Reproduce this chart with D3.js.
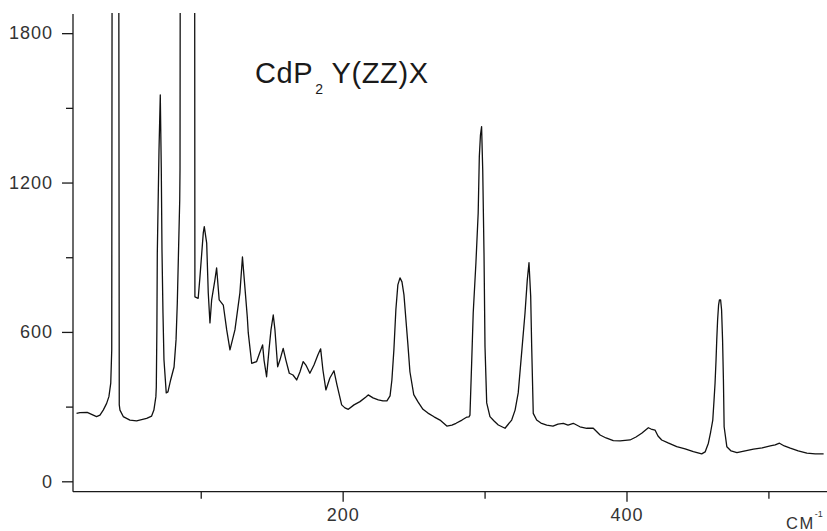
<!DOCTYPE html>
<html>
<head>
<meta charset="utf-8">
<script src="https://cdnjs.cloudflare.com/ajax/libs/d3/7.8.5/d3.min.js"></script>
<style>
  body { margin: 0; background: #fff; }
  svg { display: block; }
  .axis path, .axis line { stroke: #1a1a1a; stroke-width: 1.3; }
  .axis text { font-family: "Liberation Sans", Arial, sans-serif; font-size: 18px; fill: #333; letter-spacing: 1px; }
</style>
</head>
<body>
<svg id="chart" width="827" height="531"></svg>
<script>
// raman spectrum (cm-1 vs counts)
var waveNumbers = [12.5,14.9,20.0,23.1,26.6,29.0,31.3,33.7,35.3,36.6,37.3,37.6,39.9,42.2,42.6,43.1,45.4,50.1,54.8,61.9,
  65.4,67.0,68.4,68.7,69.1,69.4,70.6,71.5,72.2,72.7,73.4,74.1,75.7,76.9,78.8,81.2,82.6,83.5,85.2,85.4,
  85.6,90.6,95.7,95.9,98.2,99.4,101.8,102.5,104.2,105.3,106.5,107.7,110.0,111.2,113.0,115.9,118.3,120.6,124.1,127.6,
  129.4,131.1,132.8,133.5,135.9,139.4,141.0,143.6,144.6,146.4,148.1,149.5,151.1,152.3,154.2,155.8,158.1,160.0,162.4,165.0,
  167.6,169.9,172.2,174.1,176.9,179.8,182.6,184.5,186.1,188.2,191.0,193.9,196.0,199.3,201.6,204.0,208.0,212.2,216.4,218.0,
  221.4,225.1,228.4,231.2,233.4,234.7,236.1,237.5,238.9,240.4,241.8,243.2,244.6,246.0,247.4,250.1,253.1,256.6,260.1,264.4,
  268.6,273.4,277.0,279.9,284.1,287.6,289.0,289.7,290.9,292.0,293.9,295.5,296.3,297.1,297.9,298.7,299.6,300.3,301.5,303.8,
  306.7,309.7,314.4,319.1,321.5,323.7,326.1,328.5,330.1,331.3,332.5,333.2,334.3,336.7,339.7,343.8,348.2,351.7,355.5,358.8,
  362.5,367.2,372.0,376.6,381.4,385.6,390.7,395.5,402.5,406.7,410.7,415.4,417.3,420.1,422.2,424.8,429.3,435.4,441.3,447.1,
  453.0,455.4,457.7,459.3,460.8,461.7,462.4,463.1,463.6,464.2,464.9,465.5,466.3,467.0,467.7,468.3,468.8,470.7,473.7,477.8,
  483.6,489.5,495.6,501.3,504.8,507.8,511.2,515.4,521.0,527.1,533.0,538.9];
var intensities = [273,276,277,269,260,266,286,313,340,394,528,2400,3200,2400,307,286,260,246,243,253,
  262,286,340,379,608,917,1331,1552,1259,929,676,488,355,359,407,459,568,717,1130,1251,
  2300,3000,2300,741,735,817,998,1023,957,757,636,729,809,857,729,708,608,528,608,757,
  901,781,661,596,474,481,507,548,487,420,528,608,668,608,460,487,534,487,434,427,
  407,439,481,467,434,467,508,532,447,367,415,444,387,307,295,289,307,320,339,347,
  335,327,323,323,343,407,528,689,789,817,801,749,648,548,440,348,319,289,274,259,
  246,222,226,233,246,258,259,266,475,676,877,1078,1304,1391,1425,1251,917,541,315,260,
  242,226,213,246,286,355,515,676,809,878,742,541,273,246,234,226,222,230,233,226,
  233,219,213,213,186,174,163,162,166,178,193,215,210,206,182,166,154,139,130,119,
  110,118,153,198,246,327,394,487,568,648,709,729,729,689,568,407,219,139,122,115,
  122,129,134,142,146,153,142,133,122,113,110,110];

var yMajorTicks = [0, 600, 1200, 1800];
var yMinorTicks = [300, 900, 1500];
var xMajorTicks = [200, 400];
var xMinorTicks = [100, 300, 500];

(function () {
  var svg = d3.select("#chart");

  var plotLeft = 73, plotRight = 827, plotTop = 14, plotBottom = 491.7;

  var x = d3.scaleLinear().domain([10, 541]).range([plotLeft, 826.6]);
  var y = d3.scaleLinear().domain([0, 1877]).range([481.3, plotTop]);

  svg.append("defs").append("clipPath").attr("id", "plotClip")
    .append("rect").attr("x", plotLeft).attr("y", 13)
    .attr("width", plotRight - plotLeft).attr("height", plotBottom - 13);

  var pts = waveNumbers.map(function (w, i) { return [w, intensities[i]]; });
  var line = d3.line().x(function (d) { return x(d[0]); }).y(function (d) { return y(d[1]); });

  svg.append("path")
    .datum(pts)
    .attr("clip-path", "url(#plotClip)")
    .attr("d", line)
    .attr("fill", "none")
    .attr("stroke", "#111")
    .attr("stroke-width", 1.3)
    .attr("stroke-linejoin", "round");

  var plain = d3.format("d");

  // y axis
  var yAxisG = svg.append("g").attr("class", "axis").attr("transform", "translate(" + plotLeft + ",0)");
  yAxisG.call(d3.axisLeft(y).tickValues(yMajorTicks).tickFormat(plain).tickSize(11).tickSizeOuter(0).tickPadding(9));
  yAxisG.select(".domain").remove();
  svg.append("g").attr("class", "axis").attr("transform", "translate(" + plotLeft + ",0)")
    .call(d3.axisLeft(y).tickValues(yMinorTicks).tickSize(7).tickFormat(""))
    .select(".domain").remove();
  svg.append("line")
    .attr("x1", plotLeft).attr("x2", plotLeft).attr("y1", plotTop).attr("y2", plotBottom)
    .attr("stroke", "#1a1a1a").attr("stroke-width", 1.3);

  // x axis
  var xAxisG = svg.append("g").attr("class", "axis").attr("transform", "translate(0," + plotBottom + ")");
  xAxisG.call(d3.axisBottom(x).tickValues(xMajorTicks).tickFormat(plain).tickSize(10).tickSizeOuter(0).tickPadding(7));
  xAxisG.select(".domain").remove();
  svg.append("g").attr("class", "axis").attr("transform", "translate(0," + plotBottom + ")")
    .call(d3.axisBottom(x).tickValues(xMinorTicks).tickSize(7).tickFormat(""))
    .select(".domain").remove();
  svg.append("line")
    .attr("x1", plotLeft).attr("x2", plotRight).attr("y1", plotBottom).attr("y2", plotBottom)
    .attr("stroke", "#1a1a1a").attr("stroke-width", 1.3);

  // unit label
  var unit = svg.append("text")
    .attr("x", 786).attr("y", 529)
    .attr("font-family", "Liberation Sans, Arial, sans-serif")
    .attr("font-size", 16.5).attr("fill", "#333").attr("letter-spacing", 1.5);
  unit.append("tspan").text("CM");
  unit.append("tspan").attr("font-size", 9).attr("dy", -12).attr("letter-spacing", 0).text("-1");

  // title
  var title = svg.append("text")
    .attr("x", 255).attr("y", 83)
    .attr("font-family", "Liberation Sans, Arial, sans-serif")
    .attr("font-size", 29).attr("fill", "#1a1a1a").attr("letter-spacing", 0.6);
  title.append("tspan").text("CdP");
  title.append("tspan").attr("font-size", 14).attr("dy", 11).attr("dx", 2).text("2");
  title.append("tspan").attr("dy", -11).attr("dx", 8).text("Y(ZZ)X");
})();
</script>
</body>
</html>
